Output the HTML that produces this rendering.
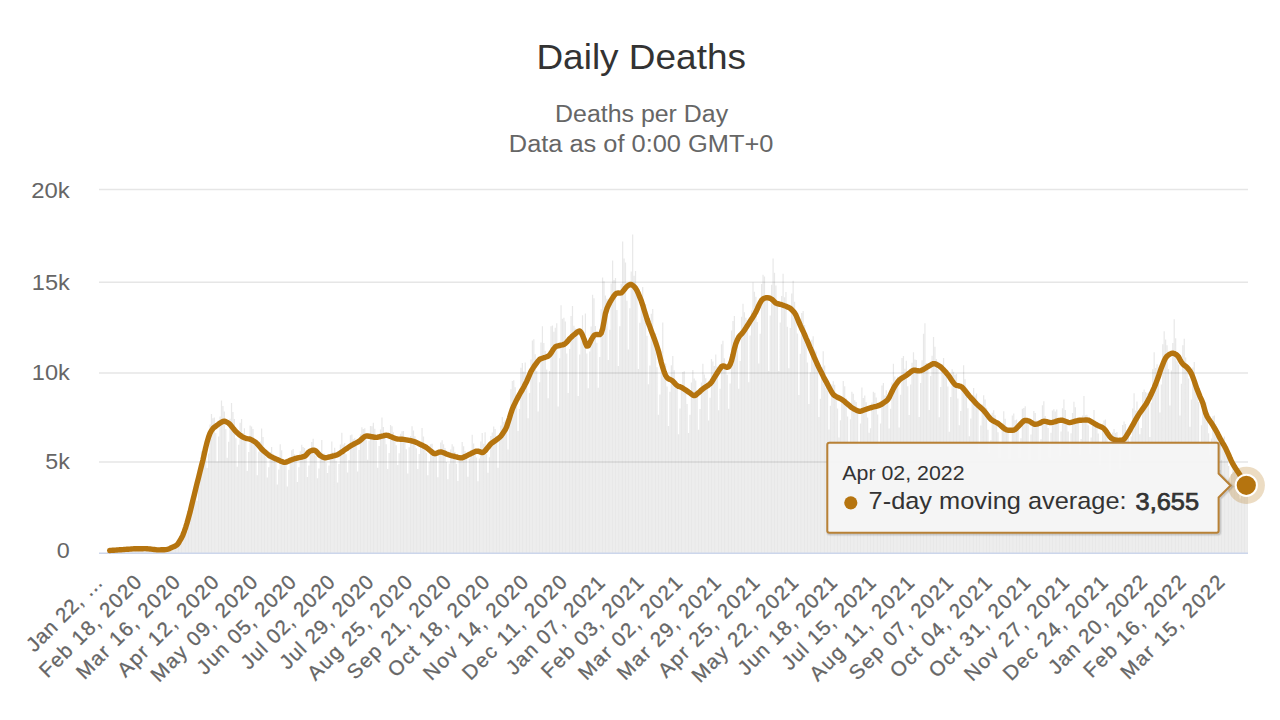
<!DOCTYPE html>
<html><head><meta charset="utf-8"><style>
html,body{margin:0;padding:0;background:#fff;}
svg{display:block;font-family:"Liberation Sans", sans-serif;}
</style></head><body>
<svg width="1280" height="720" viewBox="0 0 1280 720">
<rect width="1280" height="720" fill="#fff"/>
<text x="641.2" y="68.9" text-anchor="middle" font-size="35" fill="#333333" textLength="209.5" lengthAdjust="spacingAndGlyphs">Daily Deaths</text>
<text x="641.6" y="122.1" text-anchor="middle" font-size="23.5" fill="#666666" textLength="173" lengthAdjust="spacingAndGlyphs">Deaths per Day</text>
<text x="641.1" y="151.7" text-anchor="middle" font-size="23.5" fill="#666666" textLength="264.5" lengthAdjust="spacingAndGlyphs">Data as of 0:00 GMT+0</text>
<g stroke="#e6e6e6" stroke-width="1.6" fill="none"><path d="M99.0 189.45H1248.0" /><path d="M99.0 282.2H1248.0" /><path d="M99.0 373.0H1248.0" /><path d="M99.0 462.0H1248.0" /></g>
<path d="M109.12 550.4h1.25V553.3h-1.25ZM110.55 550.0h1.25V553.3h-1.25ZM111.99 550.0h1.25V553.3h-1.25ZM113.42 549.9h1.25V553.3h-1.25ZM114.85 550.1h1.25V553.3h-1.25ZM116.28 550.9h1.25V553.3h-1.25ZM117.72 550.3h1.25V553.3h-1.25ZM119.15 549.7h1.25V553.3h-1.25ZM120.58 549.2h1.25V553.3h-1.25ZM122.01 549.3h1.25V553.3h-1.25ZM123.45 549.5h1.25V553.3h-1.25ZM124.88 549.5h1.25V553.3h-1.25ZM126.31 550.4h1.25V553.3h-1.25ZM127.74 549.6h1.25V553.3h-1.25ZM129.18 548.7h1.25V553.3h-1.25ZM130.61 548.6h1.25V553.3h-1.25ZM132.04 548.6h1.25V553.3h-1.25ZM133.48 548.6h1.25V553.3h-1.25ZM134.91 548.7h1.25V553.3h-1.25ZM136.34 550.0h1.25V553.3h-1.25ZM137.77 549.3h1.25V553.3h-1.25ZM139.21 548.6h1.25V553.3h-1.25ZM140.64 547.9h1.25V553.3h-1.25ZM142.07 548.1h1.25V553.3h-1.25ZM143.50 548.4h1.25V553.3h-1.25ZM144.94 548.8h1.25V553.3h-1.25ZM146.37 549.8h1.25V553.3h-1.25ZM147.80 549.3h1.25V553.3h-1.25ZM149.23 548.9h1.25V553.3h-1.25ZM150.67 548.6h1.25V553.3h-1.25ZM152.10 548.9h1.25V553.3h-1.25ZM153.53 549.4h1.25V553.3h-1.25ZM154.97 550.0h1.25V553.3h-1.25ZM156.40 550.8h1.25V553.3h-1.25ZM157.83 550.4h1.25V553.3h-1.25ZM159.26 549.8h1.25V553.3h-1.25ZM160.70 549.4h1.25V553.3h-1.25ZM162.13 549.6h1.25V553.3h-1.25ZM163.56 549.5h1.25V553.3h-1.25ZM164.99 549.6h1.25V553.3h-1.25ZM166.43 550.5h1.25V553.3h-1.25ZM167.86 549.4h1.25V553.3h-1.25ZM169.29 547.8h1.25V553.3h-1.25ZM170.72 547.2h1.25V553.3h-1.25ZM172.16 546.8h1.25V553.3h-1.25ZM173.59 546.1h1.25V553.3h-1.25ZM175.02 546.4h1.25V553.3h-1.25ZM176.46 547.1h1.25V553.3h-1.25ZM177.89 543.6h1.25V553.3h-1.25ZM179.32 539.8h1.25V553.3h-1.25ZM180.75 536.0h1.25V553.3h-1.25ZM182.19 533.1h1.25V553.3h-1.25ZM183.62 529.9h1.25V553.3h-1.25ZM185.05 528.4h1.25V553.3h-1.25ZM186.48 531.6h1.25V553.3h-1.25ZM187.92 522.8h1.25V553.3h-1.25ZM189.35 510.7h1.25V553.3h-1.25ZM190.78 501.2h1.25V553.3h-1.25ZM192.21 499.2h1.25V553.3h-1.25ZM193.65 494.8h1.25V553.3h-1.25ZM195.08 493.8h1.25V553.3h-1.25ZM196.51 500.8h1.25V553.3h-1.25ZM197.95 486.7h1.25V553.3h-1.25ZM199.38 467.2h1.25V553.3h-1.25ZM200.81 451.2h1.25V553.3h-1.25ZM202.24 453.0h1.25V553.3h-1.25ZM203.68 454.2h1.25V553.3h-1.25ZM205.11 452.4h1.25V553.3h-1.25ZM206.54 468.0h1.25V553.3h-1.25ZM207.97 453.6h1.25V553.3h-1.25ZM209.41 424.6h1.25V553.3h-1.25ZM210.84 414.0h1.25V553.3h-1.25ZM212.27 418.3h1.25V553.3h-1.25ZM213.70 417.5h1.25V553.3h-1.25ZM215.14 432.9h1.25V553.3h-1.25ZM216.57 461.6h1.25V553.3h-1.25ZM218.00 436.6h1.25V553.3h-1.25ZM219.44 416.4h1.25V553.3h-1.25ZM220.87 400.5h1.25V553.3h-1.25ZM222.30 405.9h1.25V553.3h-1.25ZM223.73 411.5h1.25V553.3h-1.25ZM225.17 429.0h1.25V553.3h-1.25ZM226.60 457.7h1.25V553.3h-1.25ZM228.03 441.7h1.25V553.3h-1.25ZM229.46 418.8h1.25V553.3h-1.25ZM230.90 403.1h1.25V553.3h-1.25ZM232.33 412.1h1.25V553.3h-1.25ZM233.76 419.0h1.25V553.3h-1.25ZM235.19 438.3h1.25V553.3h-1.25ZM236.63 466.8h1.25V553.3h-1.25ZM238.06 444.7h1.25V553.3h-1.25ZM239.49 422.8h1.25V553.3h-1.25ZM240.93 419.0h1.25V553.3h-1.25ZM242.36 433.0h1.25V553.3h-1.25ZM243.79 428.3h1.25V553.3h-1.25ZM245.22 439.0h1.25V553.3h-1.25ZM246.66 471.1h1.25V553.3h-1.25ZM248.09 452.0h1.25V553.3h-1.25ZM249.52 425.4h1.25V553.3h-1.25ZM250.95 426.4h1.25V553.3h-1.25ZM252.39 429.0h1.25V553.3h-1.25ZM253.82 441.5h1.25V553.3h-1.25ZM255.25 441.6h1.25V553.3h-1.25ZM256.68 475.2h1.25V553.3h-1.25ZM258.12 451.7h1.25V553.3h-1.25ZM259.55 441.6h1.25V553.3h-1.25ZM260.98 428.4h1.25V553.3h-1.25ZM262.42 436.9h1.25V553.3h-1.25ZM263.85 447.3h1.25V553.3h-1.25ZM265.28 456.5h1.25V553.3h-1.25ZM266.71 477.4h1.25V553.3h-1.25ZM268.15 467.2h1.25V553.3h-1.25ZM269.58 452.1h1.25V553.3h-1.25ZM271.01 447.0h1.25V553.3h-1.25ZM272.44 453.8h1.25V553.3h-1.25ZM273.88 455.9h1.25V553.3h-1.25ZM275.31 461.0h1.25V553.3h-1.25ZM276.74 484.5h1.25V553.3h-1.25ZM278.17 469.5h1.25V553.3h-1.25ZM279.61 444.2h1.25V553.3h-1.25ZM281.04 450.2h1.25V553.3h-1.25ZM282.47 459.7h1.25V553.3h-1.25ZM283.91 461.9h1.25V553.3h-1.25ZM285.34 462.9h1.25V553.3h-1.25ZM286.77 486.6h1.25V553.3h-1.25ZM288.20 469.7h1.25V553.3h-1.25ZM289.64 457.8h1.25V553.3h-1.25ZM291.07 450.2h1.25V553.3h-1.25ZM292.50 448.9h1.25V553.3h-1.25ZM293.93 454.3h1.25V553.3h-1.25ZM295.37 457.4h1.25V553.3h-1.25ZM296.80 482.0h1.25V553.3h-1.25ZM298.23 467.2h1.25V553.3h-1.25ZM299.66 451.2h1.25V553.3h-1.25ZM301.10 444.8h1.25V553.3h-1.25ZM302.53 446.9h1.25V553.3h-1.25ZM303.96 447.9h1.25V553.3h-1.25ZM305.40 457.6h1.25V553.3h-1.25ZM306.83 476.9h1.25V553.3h-1.25ZM308.26 465.5h1.25V553.3h-1.25ZM309.69 448.5h1.25V553.3h-1.25ZM311.13 442.1h1.25V553.3h-1.25ZM312.56 438.7h1.25V553.3h-1.25ZM313.99 452.3h1.25V553.3h-1.25ZM315.42 455.8h1.25V553.3h-1.25ZM316.86 478.2h1.25V553.3h-1.25ZM318.29 468.6h1.25V553.3h-1.25ZM319.72 451.6h1.25V553.3h-1.25ZM321.15 440.0h1.25V553.3h-1.25ZM322.59 453.5h1.25V553.3h-1.25ZM324.02 453.4h1.25V553.3h-1.25ZM325.45 462.7h1.25V553.3h-1.25ZM326.89 472.9h1.25V553.3h-1.25ZM328.32 465.5h1.25V553.3h-1.25ZM329.75 454.1h1.25V553.3h-1.25ZM331.18 441.5h1.25V553.3h-1.25ZM332.62 452.0h1.25V553.3h-1.25ZM334.05 447.8h1.25V553.3h-1.25ZM335.48 460.7h1.25V553.3h-1.25ZM336.91 482.4h1.25V553.3h-1.25ZM338.35 464.1h1.25V553.3h-1.25ZM339.78 444.6h1.25V553.3h-1.25ZM341.21 432.7h1.25V553.3h-1.25ZM342.64 444.5h1.25V553.3h-1.25ZM344.08 442.9h1.25V553.3h-1.25ZM345.51 454.3h1.25V553.3h-1.25ZM346.94 472.4h1.25V553.3h-1.25ZM348.38 460.1h1.25V553.3h-1.25ZM349.81 435.2h1.25V553.3h-1.25ZM351.24 434.5h1.25V553.3h-1.25ZM352.67 439.3h1.25V553.3h-1.25ZM354.11 438.3h1.25V553.3h-1.25ZM355.54 444.1h1.25V553.3h-1.25ZM356.97 471.5h1.25V553.3h-1.25ZM358.40 450.0h1.25V553.3h-1.25ZM359.84 434.3h1.25V553.3h-1.25ZM361.27 427.3h1.25V553.3h-1.25ZM362.70 429.0h1.25V553.3h-1.25ZM364.13 428.2h1.25V553.3h-1.25ZM365.57 439.8h1.25V553.3h-1.25ZM367.00 459.7h1.25V553.3h-1.25ZM368.43 440.8h1.25V553.3h-1.25ZM369.87 426.0h1.25V553.3h-1.25ZM371.30 426.3h1.25V553.3h-1.25ZM372.73 422.7h1.25V553.3h-1.25ZM374.16 428.7h1.25V553.3h-1.25ZM375.60 440.4h1.25V553.3h-1.25ZM377.03 467.8h1.25V553.3h-1.25ZM378.46 445.9h1.25V553.3h-1.25ZM379.89 429.5h1.25V553.3h-1.25ZM381.33 417.4h1.25V553.3h-1.25ZM382.76 427.0h1.25V553.3h-1.25ZM384.19 436.2h1.25V553.3h-1.25ZM385.62 444.3h1.25V553.3h-1.25ZM387.06 469.0h1.25V553.3h-1.25ZM388.49 453.1h1.25V553.3h-1.25ZM389.92 425.1h1.25V553.3h-1.25ZM391.36 426.2h1.25V553.3h-1.25ZM392.79 432.2h1.25V553.3h-1.25ZM394.22 438.5h1.25V553.3h-1.25ZM395.65 445.2h1.25V553.3h-1.25ZM397.09 464.9h1.25V553.3h-1.25ZM398.52 453.3h1.25V553.3h-1.25ZM399.95 433.8h1.25V553.3h-1.25ZM401.38 431.2h1.25V553.3h-1.25ZM402.82 431.0h1.25V553.3h-1.25ZM404.25 439.1h1.25V553.3h-1.25ZM405.68 449.2h1.25V553.3h-1.25ZM407.12 473.4h1.25V553.3h-1.25ZM408.55 447.3h1.25V553.3h-1.25ZM409.98 435.9h1.25V553.3h-1.25ZM411.41 426.2h1.25V553.3h-1.25ZM412.85 430.5h1.25V553.3h-1.25ZM414.28 436.2h1.25V553.3h-1.25ZM415.71 448.3h1.25V553.3h-1.25ZM417.14 468.9h1.25V553.3h-1.25ZM418.58 453.9h1.25V553.3h-1.25ZM420.01 443.7h1.25V553.3h-1.25ZM421.44 428.1h1.25V553.3h-1.25ZM422.87 436.4h1.25V553.3h-1.25ZM424.31 448.3h1.25V553.3h-1.25ZM425.74 452.8h1.25V553.3h-1.25ZM427.17 475.3h1.25V553.3h-1.25ZM428.61 461.6h1.25V553.3h-1.25ZM430.04 444.3h1.25V553.3h-1.25ZM431.47 443.7h1.25V553.3h-1.25ZM432.90 449.3h1.25V553.3h-1.25ZM434.34 452.8h1.25V553.3h-1.25ZM435.77 454.6h1.25V553.3h-1.25ZM437.20 477.3h1.25V553.3h-1.25ZM438.63 453.3h1.25V553.3h-1.25ZM440.07 442.5h1.25V553.3h-1.25ZM441.50 440.3h1.25V553.3h-1.25ZM442.93 444.2h1.25V553.3h-1.25ZM444.36 448.1h1.25V553.3h-1.25ZM445.80 462.0h1.25V553.3h-1.25ZM447.23 479.2h1.25V553.3h-1.25ZM448.66 463.5h1.25V553.3h-1.25ZM450.10 449.5h1.25V553.3h-1.25ZM451.53 444.2h1.25V553.3h-1.25ZM452.96 446.4h1.25V553.3h-1.25ZM454.39 452.0h1.25V553.3h-1.25ZM455.83 463.8h1.25V553.3h-1.25ZM457.26 481.0h1.25V553.3h-1.25ZM458.69 458.1h1.25V553.3h-1.25ZM460.12 455.0h1.25V553.3h-1.25ZM461.56 442.1h1.25V553.3h-1.25ZM462.99 446.2h1.25V553.3h-1.25ZM464.42 451.0h1.25V553.3h-1.25ZM465.85 457.7h1.25V553.3h-1.25ZM467.29 476.7h1.25V553.3h-1.25ZM468.72 458.7h1.25V553.3h-1.25ZM470.15 450.4h1.25V553.3h-1.25ZM471.59 434.7h1.25V553.3h-1.25ZM473.02 443.5h1.25V553.3h-1.25ZM474.45 450.1h1.25V553.3h-1.25ZM475.88 457.5h1.25V553.3h-1.25ZM477.32 481.2h1.25V553.3h-1.25ZM478.75 458.5h1.25V553.3h-1.25ZM480.18 441.6h1.25V553.3h-1.25ZM481.61 433.0h1.25V553.3h-1.25ZM483.05 443.7h1.25V553.3h-1.25ZM484.48 432.2h1.25V553.3h-1.25ZM485.91 453.9h1.25V553.3h-1.25ZM487.34 472.8h1.25V553.3h-1.25ZM488.78 457.3h1.25V553.3h-1.25ZM490.21 436.0h1.25V553.3h-1.25ZM491.64 432.4h1.25V553.3h-1.25ZM493.08 426.4h1.25V553.3h-1.25ZM494.51 429.0h1.25V553.3h-1.25ZM495.94 436.5h1.25V553.3h-1.25ZM497.37 467.7h1.25V553.3h-1.25ZM498.81 440.8h1.25V553.3h-1.25ZM500.24 425.4h1.25V553.3h-1.25ZM501.67 416.9h1.25V553.3h-1.25ZM503.10 422.1h1.25V553.3h-1.25ZM504.54 420.3h1.25V553.3h-1.25ZM505.97 425.3h1.25V553.3h-1.25ZM507.40 449.6h1.25V553.3h-1.25ZM508.83 425.1h1.25V553.3h-1.25ZM510.27 389.3h1.25V553.3h-1.25ZM511.70 381.0h1.25V553.3h-1.25ZM513.13 380.3h1.25V553.3h-1.25ZM514.57 387.3h1.25V553.3h-1.25ZM516.00 395.7h1.25V553.3h-1.25ZM517.43 430.9h1.25V553.3h-1.25ZM518.86 409.0h1.25V553.3h-1.25ZM520.30 367.7h1.25V553.3h-1.25ZM521.73 362.9h1.25V553.3h-1.25ZM523.16 371.4h1.25V553.3h-1.25ZM524.59 362.5h1.25V553.3h-1.25ZM526.03 377.5h1.25V553.3h-1.25ZM527.46 418.2h1.25V553.3h-1.25ZM528.89 393.0h1.25V553.3h-1.25ZM530.32 359.6h1.25V553.3h-1.25ZM531.76 340.4h1.25V553.3h-1.25ZM533.19 339.3h1.25V553.3h-1.25ZM534.62 354.3h1.25V553.3h-1.25ZM536.06 371.1h1.25V553.3h-1.25ZM537.49 411.5h1.25V553.3h-1.25ZM538.92 382.3h1.25V553.3h-1.25ZM540.35 342.6h1.25V553.3h-1.25ZM541.79 326.3h1.25V553.3h-1.25ZM543.22 343.0h1.25V553.3h-1.25ZM544.65 350.9h1.25V553.3h-1.25ZM546.08 369.4h1.25V553.3h-1.25ZM547.52 398.2h1.25V553.3h-1.25ZM548.95 371.0h1.25V553.3h-1.25ZM550.38 326.3h1.25V553.3h-1.25ZM551.81 325.4h1.25V553.3h-1.25ZM553.25 331.8h1.25V553.3h-1.25ZM554.68 327.7h1.25V553.3h-1.25ZM556.11 323.3h1.25V553.3h-1.25ZM557.55 406.5h1.25V553.3h-1.25ZM558.98 358.3h1.25V553.3h-1.25ZM560.41 305.3h1.25V553.3h-1.25ZM561.84 318.8h1.25V553.3h-1.25ZM563.28 317.8h1.25V553.3h-1.25ZM564.71 321.5h1.25V553.3h-1.25ZM566.14 353.4h1.25V553.3h-1.25ZM567.57 393.1h1.25V553.3h-1.25ZM569.01 349.1h1.25V553.3h-1.25ZM570.44 316.1h1.25V553.3h-1.25ZM571.87 306.1h1.25V553.3h-1.25ZM573.30 325.7h1.25V553.3h-1.25ZM574.74 328.5h1.25V553.3h-1.25ZM576.17 334.5h1.25V553.3h-1.25ZM577.60 395.9h1.25V553.3h-1.25ZM579.04 354.4h1.25V553.3h-1.25ZM580.47 332.8h1.25V553.3h-1.25ZM581.90 315.2h1.25V553.3h-1.25ZM583.33 332.0h1.25V553.3h-1.25ZM584.77 313.5h1.25V553.3h-1.25ZM586.20 353.5h1.25V553.3h-1.25ZM587.63 388.3h1.25V553.3h-1.25ZM589.06 351.6h1.25V553.3h-1.25ZM590.50 326.4h1.25V553.3h-1.25ZM591.93 294.7h1.25V553.3h-1.25ZM593.36 298.3h1.25V553.3h-1.25ZM594.79 325.9h1.25V553.3h-1.25ZM596.23 342.8h1.25V553.3h-1.25ZM597.66 387.8h1.25V553.3h-1.25ZM599.09 356.9h1.25V553.3h-1.25ZM600.53 309.2h1.25V553.3h-1.25ZM601.96 277.5h1.25V553.3h-1.25ZM603.39 281.2h1.25V553.3h-1.25ZM604.82 295.5h1.25V553.3h-1.25ZM606.26 298.8h1.25V553.3h-1.25ZM607.69 360.0h1.25V553.3h-1.25ZM609.12 329.8h1.25V553.3h-1.25ZM610.55 283.4h1.25V553.3h-1.25ZM611.99 260.4h1.25V553.3h-1.25ZM613.42 280.1h1.25V553.3h-1.25ZM614.85 278.1h1.25V553.3h-1.25ZM616.28 309.9h1.25V553.3h-1.25ZM617.72 366.1h1.25V553.3h-1.25ZM619.15 326.3h1.25V553.3h-1.25ZM620.58 283.8h1.25V553.3h-1.25ZM622.02 241.6h1.25V553.3h-1.25ZM623.45 258.4h1.25V553.3h-1.25ZM624.88 262.5h1.25V553.3h-1.25ZM626.31 300.7h1.25V553.3h-1.25ZM627.75 349.5h1.25V553.3h-1.25ZM629.18 308.2h1.25V553.3h-1.25ZM630.61 271.4h1.25V553.3h-1.25ZM632.04 234.6h1.25V553.3h-1.25ZM633.48 275.8h1.25V553.3h-1.25ZM634.91 271.0h1.25V553.3h-1.25ZM636.34 293.2h1.25V553.3h-1.25ZM637.77 369.1h1.25V553.3h-1.25ZM639.21 322.7h1.25V553.3h-1.25ZM640.64 304.5h1.25V553.3h-1.25ZM642.07 286.9h1.25V553.3h-1.25ZM643.51 308.0h1.25V553.3h-1.25ZM644.94 304.3h1.25V553.3h-1.25ZM646.37 335.7h1.25V553.3h-1.25ZM647.80 384.2h1.25V553.3h-1.25ZM649.24 365.6h1.25V553.3h-1.25ZM650.67 313.7h1.25V553.3h-1.25ZM652.10 309.0h1.25V553.3h-1.25ZM653.53 333.5h1.25V553.3h-1.25ZM654.97 333.6h1.25V553.3h-1.25ZM656.40 367.3h1.25V553.3h-1.25ZM657.83 414.7h1.25V553.3h-1.25ZM659.26 394.6h1.25V553.3h-1.25ZM660.70 351.3h1.25V553.3h-1.25ZM662.13 322.4h1.25V553.3h-1.25ZM663.56 368.7h1.25V553.3h-1.25ZM665.00 363.6h1.25V553.3h-1.25ZM666.43 386.6h1.25V553.3h-1.25ZM667.86 426.0h1.25V553.3h-1.25ZM669.29 391.8h1.25V553.3h-1.25ZM670.73 365.2h1.25V553.3h-1.25ZM672.16 356.1h1.25V553.3h-1.25ZM673.59 370.2h1.25V553.3h-1.25ZM675.02 382.7h1.25V553.3h-1.25ZM676.46 387.1h1.25V553.3h-1.25ZM677.89 434.2h1.25V553.3h-1.25ZM679.32 408.5h1.25V553.3h-1.25ZM680.75 385.8h1.25V553.3h-1.25ZM682.19 372.0h1.25V553.3h-1.25ZM683.62 371.3h1.25V553.3h-1.25ZM685.05 389.5h1.25V553.3h-1.25ZM686.49 404.1h1.25V553.3h-1.25ZM687.92 433.0h1.25V553.3h-1.25ZM689.35 414.7h1.25V553.3h-1.25ZM690.78 382.5h1.25V553.3h-1.25ZM692.22 370.1h1.25V553.3h-1.25ZM693.65 378.4h1.25V553.3h-1.25ZM695.08 380.6h1.25V553.3h-1.25ZM696.51 395.2h1.25V553.3h-1.25ZM697.95 429.7h1.25V553.3h-1.25ZM699.38 409.1h1.25V553.3h-1.25ZM700.81 382.4h1.25V553.3h-1.25ZM702.24 363.7h1.25V553.3h-1.25ZM703.68 374.4h1.25V553.3h-1.25ZM705.11 378.2h1.25V553.3h-1.25ZM706.54 383.9h1.25V553.3h-1.25ZM707.98 420.5h1.25V553.3h-1.25ZM709.41 397.8h1.25V553.3h-1.25ZM710.84 359.0h1.25V553.3h-1.25ZM712.27 361.4h1.25V553.3h-1.25ZM713.71 366.0h1.25V553.3h-1.25ZM715.14 354.5h1.25V553.3h-1.25ZM716.57 366.4h1.25V553.3h-1.25ZM718.00 410.2h1.25V553.3h-1.25ZM719.44 388.7h1.25V553.3h-1.25ZM720.87 344.2h1.25V553.3h-1.25ZM722.30 340.8h1.25V553.3h-1.25ZM723.73 358.2h1.25V553.3h-1.25ZM725.17 366.2h1.25V553.3h-1.25ZM726.60 374.8h1.25V553.3h-1.25ZM728.03 408.8h1.25V553.3h-1.25ZM729.47 383.5h1.25V553.3h-1.25ZM730.90 330.5h1.25V553.3h-1.25ZM732.33 320.9h1.25V553.3h-1.25ZM733.76 316.0h1.25V553.3h-1.25ZM735.20 338.4h1.25V553.3h-1.25ZM736.63 344.2h1.25V553.3h-1.25ZM738.06 388.7h1.25V553.3h-1.25ZM739.49 361.1h1.25V553.3h-1.25ZM740.93 316.8h1.25V553.3h-1.25ZM742.36 303.7h1.25V553.3h-1.25ZM743.79 312.3h1.25V553.3h-1.25ZM745.22 317.8h1.25V553.3h-1.25ZM746.66 320.1h1.25V553.3h-1.25ZM748.09 382.3h1.25V553.3h-1.25ZM749.52 335.6h1.25V553.3h-1.25ZM750.96 310.4h1.25V553.3h-1.25ZM752.39 282.6h1.25V553.3h-1.25ZM753.82 291.8h1.25V553.3h-1.25ZM755.25 296.7h1.25V553.3h-1.25ZM756.69 321.9h1.25V553.3h-1.25ZM758.12 363.4h1.25V553.3h-1.25ZM759.55 333.8h1.25V553.3h-1.25ZM760.98 283.9h1.25V553.3h-1.25ZM762.42 274.7h1.25V553.3h-1.25ZM763.85 276.6h1.25V553.3h-1.25ZM765.28 298.1h1.25V553.3h-1.25ZM766.71 298.5h1.25V553.3h-1.25ZM768.15 370.9h1.25V553.3h-1.25ZM769.58 315.6h1.25V553.3h-1.25ZM771.01 284.8h1.25V553.3h-1.25ZM772.45 258.5h1.25V553.3h-1.25ZM773.88 272.8h1.25V553.3h-1.25ZM775.31 285.6h1.25V553.3h-1.25ZM776.74 304.8h1.25V553.3h-1.25ZM778.18 371.1h1.25V553.3h-1.25ZM779.61 322.6h1.25V553.3h-1.25ZM781.04 295.9h1.25V553.3h-1.25ZM782.47 273.7h1.25V553.3h-1.25ZM783.91 297.2h1.25V553.3h-1.25ZM785.34 292.0h1.25V553.3h-1.25ZM786.77 326.7h1.25V553.3h-1.25ZM788.20 368.3h1.25V553.3h-1.25ZM789.64 327.9h1.25V553.3h-1.25ZM791.07 293.4h1.25V553.3h-1.25ZM792.50 280.8h1.25V553.3h-1.25ZM793.94 301.7h1.25V553.3h-1.25ZM795.37 314.6h1.25V553.3h-1.25ZM796.80 333.5h1.25V553.3h-1.25ZM798.23 394.9h1.25V553.3h-1.25ZM799.67 353.8h1.25V553.3h-1.25ZM801.10 313.1h1.25V553.3h-1.25ZM802.53 311.0h1.25V553.3h-1.25ZM803.96 325.1h1.25V553.3h-1.25ZM805.40 344.5h1.25V553.3h-1.25ZM806.83 362.5h1.25V553.3h-1.25ZM808.26 403.9h1.25V553.3h-1.25ZM809.69 372.3h1.25V553.3h-1.25ZM811.13 339.7h1.25V553.3h-1.25ZM812.56 336.3h1.25V553.3h-1.25ZM813.99 349.4h1.25V553.3h-1.25ZM815.43 351.4h1.25V553.3h-1.25ZM816.86 369.6h1.25V553.3h-1.25ZM818.29 417.0h1.25V553.3h-1.25ZM819.72 398.8h1.25V553.3h-1.25ZM821.16 366.9h1.25V553.3h-1.25ZM822.59 351.3h1.25V553.3h-1.25ZM824.02 365.5h1.25V553.3h-1.25ZM825.45 387.8h1.25V553.3h-1.25ZM826.89 390.5h1.25V553.3h-1.25ZM828.32 429.4h1.25V553.3h-1.25ZM829.75 405.8h1.25V553.3h-1.25ZM831.18 384.6h1.25V553.3h-1.25ZM832.62 381.3h1.25V553.3h-1.25ZM834.05 384.7h1.25V553.3h-1.25ZM835.48 399.3h1.25V553.3h-1.25ZM836.92 408.5h1.25V553.3h-1.25ZM838.35 437.5h1.25V553.3h-1.25ZM839.78 420.3h1.25V553.3h-1.25ZM841.21 397.3h1.25V553.3h-1.25ZM842.65 381.0h1.25V553.3h-1.25ZM844.08 386.2h1.25V553.3h-1.25ZM845.51 398.2h1.25V553.3h-1.25ZM846.94 416.6h1.25V553.3h-1.25ZM848.38 444.1h1.25V553.3h-1.25ZM849.81 419.2h1.25V553.3h-1.25ZM851.24 391.8h1.25V553.3h-1.25ZM852.67 393.8h1.25V553.3h-1.25ZM854.11 400.3h1.25V553.3h-1.25ZM855.54 402.0h1.25V553.3h-1.25ZM856.97 411.0h1.25V553.3h-1.25ZM858.41 446.3h1.25V553.3h-1.25ZM859.84 423.5h1.25V553.3h-1.25ZM861.27 387.5h1.25V553.3h-1.25ZM862.70 398.1h1.25V553.3h-1.25ZM864.14 395.4h1.25V553.3h-1.25ZM865.57 402.3h1.25V553.3h-1.25ZM867.00 417.4h1.25V553.3h-1.25ZM868.43 432.7h1.25V553.3h-1.25ZM869.87 428.2h1.25V553.3h-1.25ZM871.30 402.5h1.25V553.3h-1.25ZM872.73 391.7h1.25V553.3h-1.25ZM874.16 392.7h1.25V553.3h-1.25ZM875.60 397.6h1.25V553.3h-1.25ZM877.03 414.5h1.25V553.3h-1.25ZM878.46 445.6h1.25V553.3h-1.25ZM879.90 423.5h1.25V553.3h-1.25ZM881.33 385.5h1.25V553.3h-1.25ZM882.76 382.9h1.25V553.3h-1.25ZM884.19 395.5h1.25V553.3h-1.25ZM885.63 390.3h1.25V553.3h-1.25ZM887.06 397.2h1.25V553.3h-1.25ZM888.49 428.4h1.25V553.3h-1.25ZM889.92 408.8h1.25V553.3h-1.25ZM891.36 382.5h1.25V553.3h-1.25ZM892.79 363.7h1.25V553.3h-1.25ZM894.22 376.5h1.25V553.3h-1.25ZM895.65 382.1h1.25V553.3h-1.25ZM897.09 376.8h1.25V553.3h-1.25ZM898.52 427.5h1.25V553.3h-1.25ZM899.95 394.7h1.25V553.3h-1.25ZM901.39 358.0h1.25V553.3h-1.25ZM902.82 356.1h1.25V553.3h-1.25ZM904.25 368.7h1.25V553.3h-1.25ZM905.68 360.7h1.25V553.3h-1.25ZM907.12 386.2h1.25V553.3h-1.25ZM908.55 415.1h1.25V553.3h-1.25ZM909.98 384.6h1.25V553.3h-1.25ZM911.41 362.8h1.25V553.3h-1.25ZM912.85 352.2h1.25V553.3h-1.25ZM914.28 359.4h1.25V553.3h-1.25ZM915.71 359.9h1.25V553.3h-1.25ZM917.14 372.5h1.25V553.3h-1.25ZM918.58 417.0h1.25V553.3h-1.25ZM920.01 382.9h1.25V553.3h-1.25ZM921.44 360.2h1.25V553.3h-1.25ZM922.88 333.7h1.25V553.3h-1.25ZM924.31 323.2h1.25V553.3h-1.25ZM925.74 363.1h1.25V553.3h-1.25ZM927.17 366.2h1.25V553.3h-1.25ZM928.61 409.9h1.25V553.3h-1.25ZM930.04 376.1h1.25V553.3h-1.25ZM931.47 355.7h1.25V553.3h-1.25ZM932.90 336.9h1.25V553.3h-1.25ZM934.34 346.7h1.25V553.3h-1.25ZM935.77 359.1h1.25V553.3h-1.25ZM937.20 369.0h1.25V553.3h-1.25ZM938.63 417.2h1.25V553.3h-1.25ZM940.07 387.0h1.25V553.3h-1.25ZM941.50 364.2h1.25V553.3h-1.25ZM942.93 358.1h1.25V553.3h-1.25ZM944.37 367.2h1.25V553.3h-1.25ZM945.80 376.8h1.25V553.3h-1.25ZM947.23 386.6h1.25V553.3h-1.25ZM948.66 431.7h1.25V553.3h-1.25ZM950.10 397.0h1.25V553.3h-1.25ZM951.53 369.2h1.25V553.3h-1.25ZM952.96 371.8h1.25V553.3h-1.25ZM954.39 374.8h1.25V553.3h-1.25ZM955.83 373.8h1.25V553.3h-1.25ZM957.26 398.5h1.25V553.3h-1.25ZM958.69 425.3h1.25V553.3h-1.25ZM960.12 411.0h1.25V553.3h-1.25ZM961.56 385.9h1.25V553.3h-1.25ZM962.99 365.2h1.25V553.3h-1.25ZM964.42 379.2h1.25V553.3h-1.25ZM965.86 387.5h1.25V553.3h-1.25ZM967.29 408.3h1.25V553.3h-1.25ZM968.72 436.3h1.25V553.3h-1.25ZM970.15 418.5h1.25V553.3h-1.25ZM971.59 399.4h1.25V553.3h-1.25ZM973.02 388.0h1.25V553.3h-1.25ZM974.45 395.4h1.25V553.3h-1.25ZM975.88 393.6h1.25V553.3h-1.25ZM977.32 407.2h1.25V553.3h-1.25ZM978.75 451.6h1.25V553.3h-1.25ZM980.18 425.6h1.25V553.3h-1.25ZM981.62 404.6h1.25V553.3h-1.25ZM983.05 395.2h1.25V553.3h-1.25ZM984.48 399.4h1.25V553.3h-1.25ZM985.91 407.7h1.25V553.3h-1.25ZM987.35 429.7h1.25V553.3h-1.25ZM988.78 452.3h1.25V553.3h-1.25ZM990.21 440.3h1.25V553.3h-1.25ZM991.64 412.8h1.25V553.3h-1.25ZM993.08 410.3h1.25V553.3h-1.25ZM994.51 415.2h1.25V553.3h-1.25ZM995.94 422.6h1.25V553.3h-1.25ZM997.37 432.2h1.25V553.3h-1.25ZM998.81 457.9h1.25V553.3h-1.25ZM1000.24 445.0h1.25V553.3h-1.25ZM1001.67 426.0h1.25V553.3h-1.25ZM1003.11 411.2h1.25V553.3h-1.25ZM1004.54 418.7h1.25V553.3h-1.25ZM1005.97 426.6h1.25V553.3h-1.25ZM1007.40 429.3h1.25V553.3h-1.25ZM1008.84 458.7h1.25V553.3h-1.25ZM1010.27 445.7h1.25V553.3h-1.25ZM1011.70 415.4h1.25V553.3h-1.25ZM1013.13 413.6h1.25V553.3h-1.25ZM1014.57 420.2h1.25V553.3h-1.25ZM1016.00 419.6h1.25V553.3h-1.25ZM1017.43 424.3h1.25V553.3h-1.25ZM1018.86 457.7h1.25V553.3h-1.25ZM1020.30 438.3h1.25V553.3h-1.25ZM1021.73 408.8h1.25V553.3h-1.25ZM1023.16 408.1h1.25V553.3h-1.25ZM1024.60 406.3h1.25V553.3h-1.25ZM1026.03 421.2h1.25V553.3h-1.25ZM1027.46 421.2h1.25V553.3h-1.25ZM1028.89 460.0h1.25V553.3h-1.25ZM1030.33 434.6h1.25V553.3h-1.25ZM1031.76 420.0h1.25V553.3h-1.25ZM1033.19 411.0h1.25V553.3h-1.25ZM1034.62 413.1h1.25V553.3h-1.25ZM1036.06 420.4h1.25V553.3h-1.25ZM1037.49 420.4h1.25V553.3h-1.25ZM1038.92 459.8h1.25V553.3h-1.25ZM1040.35 439.2h1.25V553.3h-1.25ZM1041.79 405.3h1.25V553.3h-1.25ZM1043.22 401.2h1.25V553.3h-1.25ZM1044.65 415.9h1.25V553.3h-1.25ZM1046.09 422.6h1.25V553.3h-1.25ZM1047.52 427.9h1.25V553.3h-1.25ZM1048.95 457.4h1.25V553.3h-1.25ZM1050.38 432.8h1.25V553.3h-1.25ZM1051.82 410.5h1.25V553.3h-1.25ZM1053.25 409.3h1.25V553.3h-1.25ZM1054.68 411.5h1.25V553.3h-1.25ZM1056.11 409.4h1.25V553.3h-1.25ZM1057.55 423.2h1.25V553.3h-1.25ZM1058.98 455.7h1.25V553.3h-1.25ZM1060.41 431.4h1.25V553.3h-1.25ZM1061.84 408.2h1.25V553.3h-1.25ZM1063.28 399.5h1.25V553.3h-1.25ZM1064.71 409.9h1.25V553.3h-1.25ZM1066.14 419.9h1.25V553.3h-1.25ZM1067.58 431.5h1.25V553.3h-1.25ZM1069.01 453.4h1.25V553.3h-1.25ZM1070.44 433.2h1.25V553.3h-1.25ZM1071.87 413.0h1.25V553.3h-1.25ZM1073.31 401.7h1.25V553.3h-1.25ZM1074.74 407.3h1.25V553.3h-1.25ZM1076.17 419.4h1.25V553.3h-1.25ZM1077.60 420.6h1.25V553.3h-1.25ZM1079.04 454.9h1.25V553.3h-1.25ZM1080.47 438.9h1.25V553.3h-1.25ZM1081.90 415.5h1.25V553.3h-1.25ZM1083.33 395.9h1.25V553.3h-1.25ZM1084.77 415.2h1.25V553.3h-1.25ZM1086.20 414.8h1.25V553.3h-1.25ZM1087.63 425.3h1.25V553.3h-1.25ZM1089.07 453.3h1.25V553.3h-1.25ZM1090.50 437.4h1.25V553.3h-1.25ZM1091.93 419.2h1.25V553.3h-1.25ZM1093.36 409.9h1.25V553.3h-1.25ZM1094.80 420.7h1.25V553.3h-1.25ZM1096.23 423.1h1.25V553.3h-1.25ZM1097.66 433.5h1.25V553.3h-1.25ZM1099.09 464.8h1.25V553.3h-1.25ZM1100.53 442.0h1.25V553.3h-1.25ZM1101.96 423.7h1.25V553.3h-1.25ZM1103.39 420.4h1.25V553.3h-1.25ZM1104.82 419.4h1.25V553.3h-1.25ZM1106.26 435.3h1.25V553.3h-1.25ZM1107.69 442.8h1.25V553.3h-1.25ZM1109.12 471.8h1.25V553.3h-1.25ZM1110.56 447.7h1.25V553.3h-1.25ZM1111.99 432.4h1.25V553.3h-1.25ZM1113.42 429.1h1.25V553.3h-1.25ZM1114.85 433.1h1.25V553.3h-1.25ZM1116.29 432.0h1.25V553.3h-1.25ZM1117.72 443.9h1.25V553.3h-1.25ZM1119.15 469.0h1.25V553.3h-1.25ZM1120.58 447.2h1.25V553.3h-1.25ZM1122.02 424.9h1.25V553.3h-1.25ZM1123.45 421.4h1.25V553.3h-1.25ZM1124.88 424.0h1.25V553.3h-1.25ZM1126.31 431.7h1.25V553.3h-1.25ZM1127.75 434.2h1.25V553.3h-1.25ZM1129.18 460.4h1.25V553.3h-1.25ZM1130.61 436.5h1.25V553.3h-1.25ZM1132.05 408.4h1.25V553.3h-1.25ZM1133.48 393.2h1.25V553.3h-1.25ZM1134.91 410.6h1.25V553.3h-1.25ZM1136.34 401.4h1.25V553.3h-1.25ZM1137.78 420.1h1.25V553.3h-1.25ZM1139.21 434.2h1.25V553.3h-1.25ZM1140.64 428.0h1.25V553.3h-1.25ZM1142.07 391.9h1.25V553.3h-1.25ZM1143.51 389.6h1.25V553.3h-1.25ZM1144.94 391.9h1.25V553.3h-1.25ZM1146.37 393.2h1.25V553.3h-1.25ZM1147.80 392.5h1.25V553.3h-1.25ZM1149.24 437.0h1.25V553.3h-1.25ZM1150.67 402.5h1.25V553.3h-1.25ZM1152.10 369.2h1.25V553.3h-1.25ZM1153.54 352.3h1.25V553.3h-1.25ZM1154.97 367.9h1.25V553.3h-1.25ZM1156.40 364.2h1.25V553.3h-1.25ZM1157.83 374.6h1.25V553.3h-1.25ZM1159.27 412.6h1.25V553.3h-1.25ZM1160.70 384.6h1.25V553.3h-1.25ZM1162.13 344.3h1.25V553.3h-1.25ZM1163.56 331.2h1.25V553.3h-1.25ZM1165.00 339.4h1.25V553.3h-1.25ZM1166.43 345.3h1.25V553.3h-1.25ZM1167.86 368.9h1.25V553.3h-1.25ZM1169.29 405.6h1.25V553.3h-1.25ZM1170.73 370.5h1.25V553.3h-1.25ZM1172.16 343.1h1.25V553.3h-1.25ZM1173.59 319.3h1.25V553.3h-1.25ZM1175.03 338.3h1.25V553.3h-1.25ZM1176.46 361.2h1.25V553.3h-1.25ZM1177.89 364.5h1.25V553.3h-1.25ZM1179.32 415.5h1.25V553.3h-1.25ZM1180.76 383.8h1.25V553.3h-1.25ZM1182.19 345.2h1.25V553.3h-1.25ZM1183.62 338.7h1.25V553.3h-1.25ZM1185.05 357.6h1.25V553.3h-1.25ZM1186.49 366.3h1.25V553.3h-1.25ZM1187.92 378.5h1.25V553.3h-1.25ZM1189.35 426.7h1.25V553.3h-1.25ZM1190.78 399.5h1.25V553.3h-1.25ZM1192.22 367.6h1.25V553.3h-1.25ZM1193.65 361.9h1.25V553.3h-1.25ZM1195.08 380.2h1.25V553.3h-1.25ZM1196.52 390.1h1.25V553.3h-1.25ZM1197.95 401.9h1.25V553.3h-1.25ZM1199.38 444.2h1.25V553.3h-1.25ZM1200.81 425.3h1.25V553.3h-1.25ZM1202.25 401.4h1.25V553.3h-1.25ZM1203.68 406.0h1.25V553.3h-1.25ZM1205.11 402.6h1.25V553.3h-1.25ZM1206.54 421.9h1.25V553.3h-1.25ZM1207.98 433.3h1.25V553.3h-1.25ZM1209.41 454.7h1.25V553.3h-1.25ZM1210.84 438.5h1.25V553.3h-1.25ZM1212.27 416.2h1.25V553.3h-1.25ZM1213.71 415.6h1.25V553.3h-1.25ZM1215.14 423.7h1.25V553.3h-1.25ZM1216.57 431.6h1.25V553.3h-1.25ZM1218.01 442.6h1.25V553.3h-1.25ZM1219.44 469.9h1.25V553.3h-1.25ZM1220.87 459.7h1.25V553.3h-1.25ZM1222.30 438.1h1.25V553.3h-1.25ZM1223.74 436.6h1.25V553.3h-1.25ZM1225.17 443.6h1.25V553.3h-1.25ZM1226.60 453.7h1.25V553.3h-1.25ZM1228.03 465.9h1.25V553.3h-1.25ZM1229.47 488.5h1.25V553.3h-1.25ZM1230.90 474.1h1.25V553.3h-1.25ZM1232.33 466.8h1.25V553.3h-1.25ZM1233.76 464.5h1.25V553.3h-1.25ZM1235.20 463.9h1.25V553.3h-1.25ZM1236.63 468.7h1.25V553.3h-1.25ZM1238.06 483.3h1.25V553.3h-1.25ZM1239.50 498.4h1.25V553.3h-1.25ZM1240.93 486.0h1.25V553.3h-1.25ZM1242.36 479.6h1.25V553.3h-1.25ZM1243.79 474.7h1.25V553.3h-1.25ZM1245.23 474.7h1.25V553.3h-1.25ZM1246.66 485.5h1.25V553.3h-1.25Z" fill="#000000" fill-opacity="0.09"/>
<path d="M99.0 553.3H1248.0" stroke="#ccd6eb" stroke-width="1.6"/>
<g font-size="22" fill="#666666"><text x="69.8" y="197.8" text-anchor="end" textLength="38.5" lengthAdjust="spacingAndGlyphs">20k</text><text x="69.8" y="289.6" text-anchor="end" textLength="38" lengthAdjust="spacingAndGlyphs">15k</text><text x="69.8" y="379.9" text-anchor="end" textLength="38" lengthAdjust="spacingAndGlyphs">10k</text><text x="69.8" y="468.75" text-anchor="end" textLength="24.5" lengthAdjust="spacingAndGlyphs">5k</text><text x="69.8" y="558.4" text-anchor="end" textLength="13" lengthAdjust="spacingAndGlyphs">0</text></g>
<g font-size="20.5" fill="#666666" stroke="#666666" stroke-width="0.3">
<text x="104.0" y="583.5" transform="rotate(-45 104.0 583.5)" text-anchor="end" textLength="98.2" lengthAdjust="spacing">Jan 22, …</text>
<text x="142.7" y="583.5" transform="rotate(-45 142.7 583.5)" text-anchor="end" textLength="134.8" lengthAdjust="spacing">Feb 18, 2020</text>
<text x="181.4" y="583.5" transform="rotate(-45 181.4 583.5)" text-anchor="end" textLength="137.2" lengthAdjust="spacing">Mar 16, 2020</text>
<text x="220.1" y="583.5" transform="rotate(-45 220.1 583.5)" text-anchor="end" textLength="133.9" lengthAdjust="spacing">Apr 12, 2020</text>
<text x="258.7" y="583.5" transform="rotate(-45 258.7 583.5)" text-anchor="end" textLength="140.9" lengthAdjust="spacing">May 09, 2020</text>
<text x="297.4" y="583.5" transform="rotate(-45 297.4 583.5)" text-anchor="end" textLength="130.5" lengthAdjust="spacing">Jun 05, 2020</text>
<text x="336.1" y="583.5" transform="rotate(-45 336.1 583.5)" text-anchor="end" textLength="123.1" lengthAdjust="spacing">Jul 02, 2020</text>
<text x="374.8" y="583.5" transform="rotate(-45 374.8 583.5)" text-anchor="end" textLength="123.1" lengthAdjust="spacing">Jul 29, 2020</text>
<text x="413.5" y="583.5" transform="rotate(-45 413.5 583.5)" text-anchor="end" textLength="138.5" lengthAdjust="spacing">Aug 25, 2020</text>
<text x="452.2" y="583.5" transform="rotate(-45 452.2 583.5)" text-anchor="end" textLength="137.1" lengthAdjust="spacing">Sep 21, 2020</text>
<text x="490.8" y="583.5" transform="rotate(-45 490.8 583.5)" text-anchor="end" textLength="133.9" lengthAdjust="spacing">Oct 18, 2020</text>
<text x="529.5" y="583.5" transform="rotate(-45 529.5 583.5)" text-anchor="end" textLength="138.5" lengthAdjust="spacing">Nov 14, 2020</text>
<text x="568.2" y="583.5" transform="rotate(-45 568.2 583.5)" text-anchor="end" textLength="138.1" lengthAdjust="spacing">Dec 11, 2020</text>
<text x="606.2" y="584.2" transform="rotate(-45 606.2 584.2)" text-anchor="end" textLength="130.0" lengthAdjust="spacing">Jan 07, 2021</text>
<text x="644.9" y="584.2" transform="rotate(-45 644.9 584.2)" text-anchor="end" textLength="134.8" lengthAdjust="spacing">Feb 03, 2021</text>
<text x="683.5" y="584.2" transform="rotate(-45 683.5 584.2)" text-anchor="end" textLength="137.2" lengthAdjust="spacing">Mar 02, 2021</text>
<text x="722.2" y="584.2" transform="rotate(-45 722.2 584.2)" text-anchor="end" textLength="137.2" lengthAdjust="spacing">Mar 29, 2021</text>
<text x="760.9" y="584.2" transform="rotate(-45 760.9 584.2)" text-anchor="end" textLength="133.9" lengthAdjust="spacing">Apr 25, 2021</text>
<text x="799.6" y="584.2" transform="rotate(-45 799.6 584.2)" text-anchor="end" textLength="140.9" lengthAdjust="spacing">May 22, 2021</text>
<text x="838.3" y="584.2" transform="rotate(-45 838.3 584.2)" text-anchor="end" textLength="130.5" lengthAdjust="spacing">Jun 18, 2021</text>
<text x="877.0" y="584.2" transform="rotate(-45 877.0 584.2)" text-anchor="end" textLength="123.1" lengthAdjust="spacing">Jul 15, 2021</text>
<text x="915.6" y="584.2" transform="rotate(-45 915.6 584.2)" text-anchor="end" textLength="138.5" lengthAdjust="spacing">Aug 11, 2021</text>
<text x="954.3" y="584.2" transform="rotate(-45 954.3 584.2)" text-anchor="end" textLength="137.1" lengthAdjust="spacing">Sep 07, 2021</text>
<text x="993.0" y="584.2" transform="rotate(-45 993.0 584.2)" text-anchor="end" textLength="133.9" lengthAdjust="spacing">Oct 04, 2021</text>
<text x="1031.7" y="584.2" transform="rotate(-45 1031.7 584.2)" text-anchor="end" textLength="133.9" lengthAdjust="spacing">Oct 31, 2021</text>
<text x="1070.4" y="584.2" transform="rotate(-45 1070.4 584.2)" text-anchor="end" textLength="138.5" lengthAdjust="spacing">Nov 27, 2021</text>
<text x="1109.0" y="584.2" transform="rotate(-45 1109.0 584.2)" text-anchor="end" textLength="138.1" lengthAdjust="spacing">Dec 24, 2021</text>
<text x="1148.4" y="583.5" transform="rotate(-45 1148.4 583.5)" text-anchor="end" textLength="130.0" lengthAdjust="spacing">Jan 20, 2022</text>
<text x="1187.1" y="583.5" transform="rotate(-45 1187.1 583.5)" text-anchor="end" textLength="134.8" lengthAdjust="spacing">Feb 16, 2022</text>
<text x="1225.8" y="583.5" transform="rotate(-45 1225.8 583.5)" text-anchor="end" textLength="137.2" lengthAdjust="spacing">Mar 15, 2022</text>
</g>
<path d="M109.7,550.5 L111.2,550.4 L112.6,550.3 L114.0,550.2 L115.5,550.1 L116.9,550.0 L118.3,549.9 L119.8,549.8 L121.2,549.7 L122.6,549.6 L124.1,549.5 L125.5,549.4 L126.9,549.3 L128.4,549.2 L129.8,549.1 L131.2,549.0 L132.7,548.9 L134.1,548.8 L135.5,548.8 L137.0,548.8 L138.4,548.7 L139.8,548.7 L141.3,548.7 L142.7,548.7 L144.1,548.6 L145.6,548.6 L147.0,548.7 L148.4,548.9 L149.9,549.0 L151.3,549.2 L152.7,549.4 L154.2,549.5 L155.6,549.7 L157.0,549.9 L158.5,549.9 L159.9,549.9 L161.3,549.8 L162.8,549.7 L164.2,549.7 L165.6,549.6 L167.1,549.4 L168.5,549.0 L169.9,548.4 L171.3,547.7 L172.8,547.1 L174.2,546.5 L175.6,545.8 L177.1,544.8 L178.5,543.0 L179.9,540.7 L181.4,538.2 L182.8,535.3 L184.2,531.6 L185.7,527.3 L187.1,522.8 L188.5,517.8 L190.0,512.3 L191.4,506.5 L192.8,500.6 L194.3,494.8 L195.7,488.9 L197.1,483.1 L198.6,477.4 L200.0,471.7 L201.4,466.0 L202.9,460.1 L204.3,453.9 L205.7,447.6 L207.2,441.7 L208.6,437.0 L210.0,433.3 L211.5,430.5 L212.9,428.6 L214.3,427.3 L215.8,426.2 L217.2,425.1 L218.6,424.1 L220.1,423.1 L221.5,422.2 L222.9,421.5 L224.4,421.2 L225.8,421.6 L227.2,422.3 L228.7,423.2 L230.1,424.5 L231.5,426.2 L233.0,428.1 L234.4,429.8 L235.8,431.3 L237.3,432.8 L238.7,434.2 L240.1,435.3 L241.6,436.3 L243.0,437.1 L244.4,437.8 L245.8,438.3 L247.3,438.6 L248.7,438.8 L250.1,439.2 L251.6,439.9 L253.0,440.7 L254.4,441.6 L255.9,442.6 L257.3,443.9 L258.7,445.5 L260.2,447.3 L261.6,449.0 L263.0,450.4 L264.5,451.6 L265.9,452.8 L267.3,454.0 L268.8,455.2 L270.2,456.2 L271.6,456.9 L273.1,457.6 L274.5,458.3 L275.9,458.9 L277.4,459.6 L278.8,460.2 L280.2,460.9 L281.7,461.5 L283.1,462.1 L284.5,462.4 L286.0,462.1 L287.4,461.6 L288.8,461.0 L290.3,460.3 L291.7,459.7 L293.1,459.2 L294.6,458.7 L296.0,458.3 L297.4,458.0 L298.9,457.7 L300.3,457.4 L301.7,457.1 L303.2,456.7 L304.6,456.2 L306.0,455.2 L307.5,453.4 L308.9,451.9 L310.3,451.0 L311.8,450.5 L313.2,450.2 L314.6,450.2 L316.0,451.1 L317.5,452.7 L318.9,454.4 L320.3,455.6 L321.8,456.5 L323.2,457.3 L324.6,457.8 L326.1,457.7 L327.5,457.4 L328.9,457.0 L330.4,456.7 L331.8,456.3 L333.2,455.9 L334.7,455.6 L336.1,455.2 L337.5,454.7 L339.0,453.9 L340.4,452.9 L341.8,451.9 L343.3,450.9 L344.7,449.9 L346.1,448.9 L347.6,447.9 L349.0,446.9 L350.4,446.0 L351.9,445.1 L353.3,444.4 L354.7,443.6 L356.2,442.9 L357.6,442.2 L359.0,441.3 L360.5,440.1 L361.9,438.9 L363.3,437.6 L364.8,436.5 L366.2,436.0 L367.6,436.0 L369.1,436.2 L370.5,436.5 L371.9,436.8 L373.4,437.0 L374.8,437.3 L376.2,437.4 L377.7,437.2 L379.1,436.8 L380.5,436.5 L382.0,436.1 L383.4,435.8 L384.8,435.4 L386.2,435.3 L387.7,435.4 L389.1,435.9 L390.5,436.5 L392.0,437.1 L393.4,437.8 L394.8,438.3 L396.3,438.8 L397.7,439.0 L399.1,439.1 L400.6,439.2 L402.0,439.3 L403.4,439.4 L404.9,439.6 L406.3,439.8 L407.7,440.1 L409.2,440.4 L410.6,440.7 L412.0,441.0 L413.5,441.4 L414.9,441.8 L416.3,442.4 L417.8,443.1 L419.2,443.8 L420.6,444.5 L422.1,445.2 L423.5,446.0 L424.9,446.7 L426.4,447.5 L427.8,448.6 L429.2,449.8 L430.7,451.0 L432.1,452.3 L433.5,453.3 L435.0,453.7 L436.4,453.3 L437.8,452.7 L439.3,452.1 L440.7,451.9 L442.1,452.2 L443.6,452.7 L445.0,453.3 L446.4,453.9 L447.9,454.5 L449.3,455.0 L450.7,455.5 L452.2,455.9 L453.6,456.2 L455.0,456.6 L456.5,456.9 L457.9,457.3 L459.3,457.6 L460.7,457.9 L462.2,457.8 L463.6,457.2 L465.0,456.6 L466.5,455.8 L467.9,455.1 L469.3,454.4 L470.8,453.7 L472.2,453.0 L473.6,452.3 L475.1,451.6 L476.5,451.1 L477.9,451.1 L479.4,451.6 L480.8,452.2 L482.2,452.6 L483.7,452.1 L485.1,450.8 L486.5,449.0 L488.0,447.3 L489.4,445.5 L490.8,443.9 L492.3,442.7 L493.7,441.7 L495.1,440.7 L496.6,439.7 L498.0,438.6 L499.4,437.5 L500.9,436.1 L502.3,434.2 L503.7,432.1 L505.2,429.8 L506.6,426.8 L508.0,422.6 L509.5,418.0 L510.9,413.3 L512.3,409.1 L513.8,405.7 L515.2,402.8 L516.6,399.9 L518.1,397.1 L519.5,394.5 L520.9,392.0 L522.4,389.5 L523.8,387.0 L525.2,384.3 L526.7,381.4 L528.1,378.2 L529.5,374.9 L530.9,371.7 L532.4,369.1 L533.8,366.9 L535.2,364.9 L536.7,362.9 L538.1,361.0 L539.5,359.5 L541.0,358.7 L542.4,358.2 L543.8,357.7 L545.3,357.3 L546.7,356.8 L548.1,356.2 L549.6,355.0 L551.0,353.1 L552.4,350.8 L553.9,348.6 L555.3,346.9 L556.7,346.1 L558.2,345.8 L559.6,345.5 L561.0,345.2 L562.5,344.9 L563.9,344.4 L565.3,343.5 L566.8,342.1 L568.2,340.5 L569.6,338.8 L571.1,337.4 L572.5,336.0 L573.9,334.8 L575.4,333.6 L576.8,332.4 L578.2,331.3 L579.7,331.0 L581.1,332.4 L582.5,335.2 L584.0,338.9 L585.4,343.1 L586.8,346.1 L588.3,345.8 L589.7,343.1 L591.1,340.1 L592.6,337.5 L594.0,335.5 L595.4,334.6 L596.9,334.4 L598.3,334.6 L599.7,334.6 L601.2,333.3 L602.6,328.9 L604.0,321.4 L605.4,313.6 L606.9,308.7 L608.3,305.5 L609.7,302.7 L611.2,300.1 L612.6,297.9 L614.0,295.7 L615.5,294.0 L616.9,293.1 L618.3,293.0 L619.8,293.1 L621.2,292.9 L622.6,291.7 L624.1,289.8 L625.5,288.0 L626.9,286.5 L628.4,285.3 L629.8,284.5 L631.2,284.5 L632.7,285.3 L634.1,286.5 L635.5,288.1 L637.0,290.6 L638.4,293.7 L639.8,297.1 L641.3,300.8 L642.7,305.1 L644.1,309.8 L645.6,314.5 L647.0,319.0 L648.4,323.0 L649.9,326.9 L651.3,330.8 L652.7,334.6 L654.2,338.4 L655.6,342.3 L657.0,346.5 L658.5,351.3 L659.9,356.8 L661.3,362.5 L662.8,367.7 L664.2,372.0 L665.6,375.4 L667.1,377.7 L668.5,378.8 L669.9,379.4 L671.4,380.1 L672.8,381.2 L674.2,382.7 L675.6,384.2 L677.1,385.5 L678.5,386.3 L679.9,386.7 L681.4,387.4 L682.8,388.2 L684.2,389.1 L685.7,390.0 L687.1,391.0 L688.5,392.0 L690.0,393.0 L691.4,394.1 L692.8,395.1 L694.3,395.6 L695.7,395.1 L697.1,393.9 L698.6,392.7 L700.0,391.4 L701.4,390.1 L702.9,388.9 L704.3,387.8 L705.7,386.9 L707.2,386.0 L708.6,385.0 L710.0,383.9 L711.5,382.2 L712.9,380.0 L714.3,377.7 L715.8,375.3 L717.2,373.0 L718.6,370.8 L720.1,368.6 L721.5,366.7 L722.9,365.9 L724.4,366.2 L725.8,367.0 L727.2,367.4 L728.7,366.7 L730.1,364.6 L731.5,360.9 L733.0,355.0 L734.4,348.7 L735.8,343.7 L737.3,339.9 L738.7,337.2 L740.1,335.4 L741.6,333.9 L743.0,332.3 L744.4,330.3 L745.8,328.1 L747.3,325.8 L748.7,323.6 L750.1,321.3 L751.6,319.1 L753.0,316.8 L754.4,314.5 L755.9,311.9 L757.3,308.9 L758.7,305.6 L760.2,302.6 L761.6,300.3 L763.0,299.0 L764.5,298.2 L765.9,297.7 L767.3,297.6 L768.8,297.9 L770.2,298.4 L771.6,299.1 L773.1,300.4 L774.5,301.9 L775.9,303.1 L777.4,303.7 L778.8,304.0 L780.2,304.3 L781.7,304.7 L783.1,305.2 L784.5,305.8 L786.0,306.3 L787.4,306.9 L788.8,307.5 L790.3,308.4 L791.7,309.6 L793.1,311.1 L794.6,312.8 L796.0,315.2 L797.4,318.5 L798.9,322.1 L800.3,325.4 L801.7,328.5 L803.2,331.5 L804.6,334.6 L806.0,338.0 L807.5,341.4 L808.9,344.8 L810.3,348.2 L811.8,351.6 L813.2,354.9 L814.6,358.2 L816.1,361.5 L817.5,364.6 L818.9,367.6 L820.3,370.4 L821.8,373.3 L823.2,376.2 L824.6,378.9 L826.1,381.6 L827.5,384.3 L828.9,387.0 L830.4,389.7 L831.8,392.2 L833.2,394.4 L834.7,395.7 L836.1,396.5 L837.5,397.3 L839.0,398.0 L840.4,398.7 L841.8,399.5 L843.3,400.5 L844.7,401.6 L846.1,402.9 L847.6,404.1 L849.0,405.3 L850.4,406.6 L851.9,407.7 L853.3,408.6 L854.7,409.4 L856.2,410.1 L857.6,410.8 L859.0,411.3 L860.5,411.2 L861.9,410.8 L863.3,410.3 L864.8,409.8 L866.2,409.3 L867.6,408.8 L869.1,408.3 L870.5,407.8 L871.9,407.4 L873.4,407.0 L874.8,406.6 L876.2,406.3 L877.7,405.9 L879.1,405.4 L880.5,404.8 L882.0,404.0 L883.4,403.0 L884.8,402.1 L886.3,401.1 L887.7,399.7 L889.1,397.6 L890.5,394.7 L892.0,391.5 L893.4,388.6 L894.8,386.1 L896.3,384.0 L897.7,382.0 L899.1,380.3 L900.6,379.0 L902.0,378.1 L903.4,377.2 L904.9,376.3 L906.3,375.4 L907.7,374.3 L909.2,373.2 L910.6,372.0 L912.0,371.0 L913.5,370.3 L914.9,370.2 L916.3,370.5 L917.8,370.7 L919.2,370.9 L920.6,370.7 L922.1,370.1 L923.5,369.3 L924.9,368.5 L926.4,367.6 L927.8,366.7 L929.2,365.9 L930.7,365.0 L932.1,364.2 L933.5,363.6 L935.0,363.7 L936.4,364.3 L937.8,365.1 L939.3,366.0 L940.7,367.0 L942.1,368.3 L943.6,369.8 L945.0,371.3 L946.4,372.9 L947.9,374.7 L949.3,376.6 L950.7,378.7 L952.2,380.9 L953.6,382.9 L955.0,384.6 L956.5,385.4 L957.9,385.7 L959.3,386.0 L960.8,386.4 L962.2,387.3 L963.6,388.8 L965.0,390.6 L966.5,392.4 L967.9,394.3 L969.3,396.0 L970.8,397.6 L972.2,399.2 L973.6,400.7 L975.1,402.3 L976.5,403.8 L977.9,405.2 L979.4,406.5 L980.8,407.8 L982.2,409.1 L983.7,410.5 L985.1,412.1 L986.5,413.9 L988.0,415.8 L989.4,417.6 L990.8,419.2 L992.3,420.3 L993.7,421.1 L995.1,421.9 L996.6,422.6 L998.0,423.4 L999.4,424.5 L1000.9,425.7 L1002.3,426.9 L1003.7,428.1 L1005.2,429.2 L1006.6,429.9 L1008.0,430.2 L1009.5,430.3 L1010.9,430.3 L1012.3,430.3 L1013.8,430.1 L1015.2,429.4 L1016.6,428.2 L1018.1,426.7 L1019.5,425.2 L1020.9,423.6 L1022.4,422.1 L1023.8,420.9 L1025.2,420.4 L1026.7,420.5 L1028.1,420.8 L1029.5,421.3 L1031.0,422.2 L1032.4,423.2 L1033.8,424.0 L1035.2,424.3 L1036.7,424.1 L1038.1,423.8 L1039.5,423.3 L1041.0,422.5 L1042.4,421.7 L1043.8,421.3 L1045.3,421.4 L1046.7,421.7 L1048.1,422.1 L1049.6,422.5 L1051.0,422.6 L1052.4,422.4 L1053.9,422.0 L1055.3,421.6 L1056.7,421.1 L1058.2,420.7 L1059.6,420.3 L1061.0,420.1 L1062.5,420.3 L1063.9,420.8 L1065.3,421.3 L1066.8,421.8 L1068.2,422.3 L1069.6,422.6 L1071.1,422.4 L1072.5,422.0 L1073.9,421.6 L1075.4,421.2 L1076.8,420.8 L1078.2,420.5 L1079.7,420.3 L1081.1,420.2 L1082.5,420.1 L1084.0,420.1 L1085.4,420.0 L1086.8,419.9 L1088.3,420.1 L1089.7,420.7 L1091.1,421.6 L1092.6,422.4 L1094.0,423.3 L1095.4,424.2 L1096.9,425.0 L1098.3,425.7 L1099.7,426.3 L1101.2,426.9 L1102.6,427.6 L1104.0,428.6 L1105.4,430.3 L1106.9,432.4 L1108.3,434.5 L1109.7,436.5 L1111.2,438.1 L1112.6,439.0 L1114.0,439.5 L1115.5,440.0 L1116.9,440.3 L1118.3,440.4 L1119.8,440.3 L1121.2,440.2 L1122.6,440.0 L1124.1,439.2 L1125.5,437.4 L1126.9,435.1 L1128.4,432.7 L1129.8,430.3 L1131.2,427.8 L1132.7,425.2 L1134.1,422.6 L1135.5,420.0 L1137.0,417.5 L1138.4,415.1 L1139.8,412.9 L1141.3,410.9 L1142.7,408.9 L1144.1,406.9 L1145.6,404.8 L1147.0,402.5 L1148.4,399.8 L1149.9,396.9 L1151.3,394.0 L1152.7,390.8 L1154.2,387.5 L1155.6,384.1 L1157.0,380.4 L1158.5,376.3 L1159.9,372.0 L1161.3,367.9 L1162.8,364.2 L1164.2,360.7 L1165.6,357.9 L1167.1,356.1 L1168.5,355.0 L1169.9,354.1 L1171.4,353.4 L1172.8,353.1 L1174.2,353.5 L1175.7,354.3 L1177.1,355.3 L1178.5,356.9 L1179.9,359.5 L1181.4,362.1 L1182.8,363.9 L1184.2,365.2 L1185.7,366.2 L1187.1,367.5 L1188.5,369.1 L1190.0,371.1 L1191.4,373.6 L1192.8,377.1 L1194.3,381.1 L1195.7,385.3 L1197.1,389.3 L1198.6,393.1 L1200.0,396.5 L1201.4,399.6 L1202.9,403.3 L1204.3,408.2 L1205.7,413.2 L1207.2,416.6 L1208.6,418.9 L1210.0,421.0 L1211.5,423.1 L1212.9,425.4 L1214.3,427.8 L1215.8,430.2 L1217.2,432.8 L1218.6,435.6 L1220.1,438.4 L1221.5,441.0 L1222.9,443.5 L1224.4,445.9 L1225.8,448.6 L1227.2,451.6 L1228.7,454.9 L1230.1,458.2 L1231.5,461.3 L1233.0,464.2 L1234.4,466.6 L1235.8,468.7 L1237.3,470.9 L1238.7,473.0 L1240.1,475.2 L1241.6,477.5 L1243.0,479.8 L1244.4,482.0 L1245.9,483.8 L1247.3,484.7" fill="none" stroke="#b5740f" stroke-width="5.4" stroke-linejoin="round" stroke-linecap="round"/>
<circle cx="1246.3" cy="485.3" r="18.6" fill="#b5740f" fill-opacity="0.25"/>
<circle cx="1246.3" cy="485.3" r="10.6" fill="#b5740f" stroke="#fff" stroke-width="2"/>
<g>
<path d="M829.5 442.8 H1216.6 Q1218.6 442.8 1218.6 444.8 V473.5 L1230.6 485.5 L1218.6 497.5 V530.7 Q1218.6 532.7 1216.6 532.7 H829.5 Q827.3 532.7 827.3 530.7 V444.8 Q827.3 442.8 829.5 442.8 Z" fill="none" stroke="#000" stroke-opacity="0.05" stroke-width="5" transform="translate(1 1)"/>
<path d="M829.5 442.8 H1216.6 Q1218.6 442.8 1218.6 444.8 V473.5 L1230.6 485.5 L1218.6 497.5 V530.7 Q1218.6 532.7 1216.6 532.7 H829.5 Q827.3 532.7 827.3 530.7 V444.8 Q827.3 442.8 829.5 442.8 Z" fill="none" stroke="#000" stroke-opacity="0.1" stroke-width="3" transform="translate(1 1)"/>
<path d="M829.5 442.8 H1216.6 Q1218.6 442.8 1218.6 444.8 V473.5 L1230.6 485.5 L1218.6 497.5 V530.7 Q1218.6 532.7 1216.6 532.7 H829.5 Q827.3 532.7 827.3 530.7 V444.8 Q827.3 442.8 829.5 442.8 Z" fill="#f5f5f5" fill-opacity="0.95" stroke="#b88136" stroke-width="2"/>
<text x="842.3" y="479.8" font-size="20" fill="#333333" textLength="122.2" lengthAdjust="spacingAndGlyphs">Apr 02, 2022</text>
<circle cx="850.8" cy="502.8" r="6.6" fill="#b5740f"/>
<text x="868.6" y="509.3" font-size="24.3" fill="#333333" textLength="258" lengthAdjust="spacingAndGlyphs">7-day moving average:</text>
<text x="1135.6" y="510.2" font-size="24.3" fill="#333333" stroke="#333333" stroke-width="0.75" textLength="63.5" lengthAdjust="spacingAndGlyphs">3,655</text>
</g>
</svg>
</body></html>
